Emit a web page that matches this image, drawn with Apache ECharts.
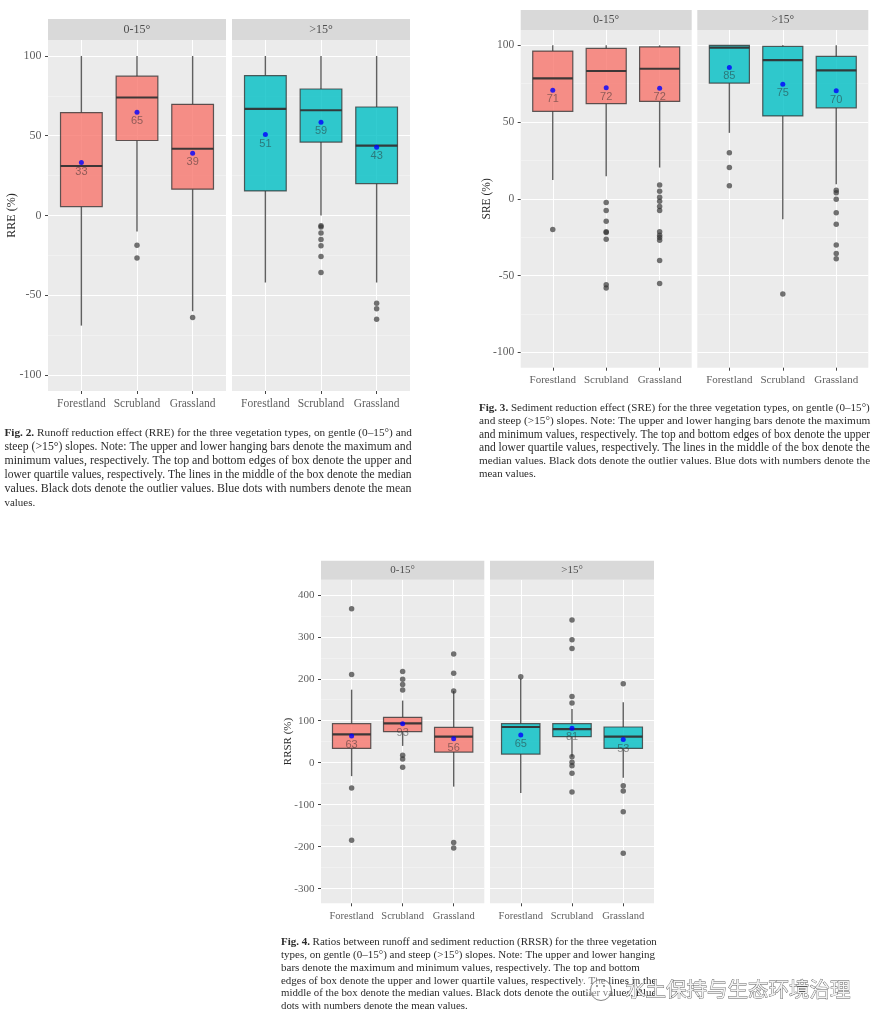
<!DOCTYPE html>
<html>
<head>
<meta charset="utf-8">
<style>html,body{margin:0;padding:0;background:#fff}#c{width:879px;height:1028px}</style>
<script src="https://cdn.jsdelivr.net/npm/echarts@6/dist/echarts.min.js"></script>
</head>
<body>
<div id="c"></div>
<script>
// ---- tick labels / categories
var categories = ['Forestland', 'Scrubland', 'Grassland'];
var facets = ['0-15°', '>15°'];
var ticksRatePct = [-100, -50, 0, 50, 100];
var minorRatePct = [-75, -25, 25, 75];
var ticksRRSR = [-300, -200, -100, 0, 100, 200, 300, 400];
var minorRRSR = [-250, -150, -50, 50, 150, 250, 350];

// ---- box values: [whisker low, q1, median, q3, whisker high]
var rreGentleBox = [[-69, 5.6, 31, 64.5, 100], [-10, 47, 74, 87.3, 100], [-60, 16.5, 41.8, 69.7, 100]];
var rreSteepBox = [[-42, 15.4, 66.8, 87.7, 100], [0, 46, 66, 79.3, 100], [-42, 20, 43.8, 68, 100]];
var sreGentleBox = [[12.2, 57, 78.5, 96.3, 100], [14.8, 62, 83.3, 98, 100], [20.4, 63.5, 84.8, 99, 100]];
var sreSteepBox = [[43, 75.4, 98.5, 100, 100], [-13.3, 54, 90.4, 99.3, 100], [9.5, 59.3, 83.7, 92.8, 100]];
var rrsrGentleBox = [[-32, 34, 67.5, 93, 174], [40, 74, 93.7, 108, 148], [-57, 25.4, 62, 84, 171]];
var rrsrSteepBox = [[-72, 20.6, 85, 93, 200], [14, 62, 80, 93, 128], [-36, 34, 62, 85, 144]];

// ---- mean dot positions and their printed numbers
var rreGentleMean = [33.2, 64.7, 39];
var rreSteepMean = [50.7, 58.5, 42.8];
var sreGentleMean = [70.7, 72.4, 72];
var sreSteepMean = [85.6, 74.6, 70.4];
var rrsrGentleMean = [63.5, 93, 57];
var rrsrSteepMean = [65.9, 82, 55];
var rreGentleMeanLabel = ['33', '65', '39'];
var rreSteepMeanLabel = ['51', '59', '43'];
var sreGentleMeanLabel = ['71', '72', '72'];
var sreSteepMeanLabel = ['85', '75', '70'];
var rrsrGentleMeanLabel = ['63', '93', '56'];
var rrsrSteepMeanLabel = ['65', '81', '53'];

// ---- outliers per category
var rreGentleOut = [[], [-18.6, -26.6], [-64]];
var rreSteepOut = [[], [-6.5, -7.2, -11, -15, -19, -25.7, -35.7], [-55, -58.5, -65]];
var sreGentleOut = [[-20], [-2.4, -7.6, -14.6, -21.5, -22, -26.3, -56, -58],
  [9, 5, 1, -1.5, -5, -7.6, -21.5, -23.7, -25.2, -27, -40.2, -55.2]];
var sreSteepOut = [[30, 20.4, 8.5], [-62], [5.6, 3.9, -0.2, -9, -16.5, -30, -35.6, -39]];
var rrsrGentleOut = [[367, 210, -60, -184.5], [217, 199, 186.5, 173, 17.5, 9, -11], [259, 213, 171, -190, -203]];
var rrsrSteepOut = [[205], [340, 293, 272, 158, 142, 14, 1, -7, -25, -70], [188, -55, -67.5, -117, -216]];

// ---- captions
var caption2 = ['{b|Fig. 2.} Runoff reduction effect (RRE) for the three vegetation types, on gentle (0–15°) and',
  'steep (>15°) slopes. Note: The upper and lower hanging bars denote the maximum and',
  'minimum values, respectively. The top and bottom edges of box denote the upper and',
  'lower quartile values, respectively. The lines in the middle of the box denote the median',
  'values. Black dots denote the outlier values. Blue dots with numbers denote the mean',
  'values.'];
var caption3 = ['{b|Fig. 3.} Sediment reduction effect (SRE) for the three vegetation types, on gentle (0–15°)',
  'and steep (>15°) slopes. Note: The upper and lower hanging bars denote the maximum',
  'and minimum values, respectively. The top and bottom edges of box denote the upper',
  'and lower quartile values, respectively. The lines in the middle of the box denote the',
  'median values. Black dots denote the outlier values. Blue dots with numbers denote the',
  'mean values.'];
var caption4 = ['{b|Fig. 4.} Ratios between runoff and sediment reduction (RRSR) for the three vegetation',
  'types, on gentle (0–15°) and steep (>15°) slopes. Note: The upper and lower hanging',
  'bars denote the maximum and minimum values, respectively. The top and bottom',
  'edges of box denote the upper and lower quartile values, respectively. The lines in the',
  'middle of the box denote the median values. Black dots denote the outlier values. Blue',
  'dots with numbers denote the mean values.'];
var watermark = '水土保持与生态环境治理';

// ---- layout (not data)
var SERIF = '"Liberation Serif", serif';
var figures = [
  { name: 'RRE (%)', ticks: ticksRatePct, minor: minorRatePct, min: -110, max: 110, top: 40, bottom: 391, strip: 19,
    nameX: 12, labelSize: 11.5, panels: [[48, 178], [232, 178]],
    box: [rreGentleBox, rreSteepBox], mean: [rreGentleMean, rreSteepMean], meanLabel: [rreGentleMeanLabel, rreSteepMeanLabel], out: [rreGentleOut, rreSteepOut] },
  { name: 'SRE (%)', ticks: ticksRatePct, minor: minorRatePct, min: -110, max: 110, top: 30, bottom: 367.7, strip: 10,
    nameX: 486.7, labelSize: 11, panels: [[520.7, 171], [697.3, 171]],
    box: [sreGentleBox, sreSteepBox], mean: [sreGentleMean, sreSteepMean], meanLabel: [sreGentleMeanLabel, sreSteepMeanLabel], out: [sreGentleOut, sreSteepOut] },
  { name: 'RRSR (%)', ticks: ticksRRSR, minor: minorRRSR, min: -335, max: 436, top: 579.7, bottom: 903.3, strip: 560.7,
    nameX: 288, labelSize: 10.5, panels: [[321, 163.3], [490, 164]],
    box: [rrsrGentleBox, rrsrSteepBox], mean: [rrsrGentleMean, rrsrSteepMean], meanLabel: [rrsrGentleMeanLabel, rrsrSteepMeanLabel], out: [rrsrGentleOut, rrsrSteepOut] }
];
var captions = [
  { lines: caption2, x: 4.5, y: 433, step: 14, maxSize: 12, widths: [407.5, 407.5, 407.5, 407.5, 407.5, 30.7] },
  { lines: caption3, x: 479, y: 408, step: 13.3, maxSize: 11.6, widths: [391.5, 391.5, 391.5, 391.5, 391.5, 57] },
  { lines: caption4, x: 281, y: 942, step: 12.9, maxSize: 11, widths: [376, 376, 376, 376, 376, 187] }
];
var PINK = 'rgba(248,118,109,0.8)', TEAL = 'rgba(0,191,196,0.8)';

var grids = [], xAxes = [], yAxes = [], series = [], graphics = [];

function boxItem(params, api) {
  var x = api.value(0);
  var pLow = api.coord([x, api.value(1)]), pQ1 = api.coord([x, api.value(2)]),
      pMed = api.coord([x, api.value(3)]), pQ3 = api.coord([x, api.value(4)]),
      pHigh = api.coord([x, api.value(5)]);
  var left = api.coord([x - 0.375, 0])[0], right = api.coord([x + 0.375, 0])[0];
  var fill = api.visual('color');
  var strokeC = 'rgba(51,51,51,0.78)';
  return { type: 'group', children: [
    { type: 'line', shape: { x1: pLow[0], y1: pLow[1], x2: pQ1[0], y2: pQ1[1] }, style: { stroke: strokeC, lineWidth: 1.4 } },
    { type: 'line', shape: { x1: pQ3[0], y1: pQ3[1], x2: pHigh[0], y2: pHigh[1] }, style: { stroke: strokeC, lineWidth: 1.4 } },
    { type: 'rect', shape: { x: left, y: pQ3[1], width: right - left, height: pQ1[1] - pQ3[1] }, style: { fill: fill, stroke: strokeC, lineWidth: 1.2 } },
    { type: 'line', shape: { x1: left, y1: pMed[1], x2: right, y2: pMed[1] }, style: { stroke: 'rgba(51,51,51,0.95)', lineWidth: 2.1 } }
  ] };
}

figures.forEach(function (f) {
  f.panels.forEach(function (p, pi) {
    var g = grids.length;
    grids.push({ left: p[0], top: f.top, width: p[1], height: f.bottom - f.top, show: true,
      backgroundColor: '#EBEBEB', borderWidth: 0, containLabel: false });
    xAxes.push({ gridIndex: g, type: 'value', min: 0.4, max: 3.6,
      axisLine: { show: false, onZero: false },
      axisTick: { show: true, length: 3, customValues: [1, 2, 3], lineStyle: { color: '#444', width: 1 } },
      axisLabel: { show: true, customValues: [1, 2, 3], margin: 7, hideOverlap: false, showMinLabel: true, showMaxLabel: true,
        color: '#5f5f5f', fontFamily: SERIF, fontSize: f.labelSize,
        formatter: function (v) { return categories[Math.round(v) - 1]; } },
      splitLine: { show: true, lineStyle: { color: '#fff', width: 1 } } });
    // main y axis: major ticks, labels, thick grid lines
    var yMain = yAxes.length;
    yAxes.push({ gridIndex: g, type: 'value', min: f.min, max: f.max,
      name: pi === 0 ? f.name : '', nameLocation: 'middle', nameGap: p[0] - f.nameX - 6, nameMoveOverlap: false,
      nameTextStyle: { color: '#2a2a2a', fontFamily: SERIF, fontSize: f.labelSize + 0.5 },
      axisLine: { show: false, onZero: false },
      axisTick: { show: pi === 0, length: 3, customValues: f.ticks, lineStyle: { color: '#444', width: 1 } },
      axisLabel: { show: pi === 0, customValues: f.ticks, margin: 6.5, showMinLabel: true, showMaxLabel: true,
        color: '#5f5f5f', fontFamily: SERIF, fontSize: f.labelSize + 0.5 },
      splitLine: { show: true, lineStyle: { color: '#fff', width: 1.1 } } });
    // companion y axis: the thin minor grid lines
    yAxes.push({ gridIndex: g, type: 'value', min: f.min, max: f.max, position: 'right',
      axisLine: { show: false, onZero: false },
      axisTick: { show: false, customValues: f.minor },
      axisLabel: { show: false },
      splitLine: { show: true, lineStyle: { color: '#F5F5F5', width: 0.6 } } });

    var fill = pi === 0 ? PINK : TEAL;
    series.push({ type: 'custom', xAxisIndex: g, yAxisIndex: yMain, renderItem: boxItem, silent: true,
      itemStyle: { color: fill }, encode: { x: 0, y: [1, 2, 3, 4, 5] }, z: 2,
      data: f.box[pi].map(function (b, i) { return [i + 1].concat(b); }) });
    var outs = [];
    f.out[pi].forEach(function (arr, i) { arr.forEach(function (v) { outs.push([i + 1, v]); }); });
    series.push({ type: 'scatter', xAxisIndex: g, yAxisIndex: yMain, symbolSize: 5.5, silent: true, z: 3,
      itemStyle: { color: 'rgba(51,51,51,0.85)' }, data: outs });
    series.push({ type: 'scatter', xAxisIndex: g, yAxisIndex: yMain, symbolSize: 5, silent: true, z: 4,
      itemStyle: { color: '#0000FF' },
      label: { show: true, position: 'bottom', distance: 1, color: 'rgba(40,40,40,0.62)',
        fontFamily: '"Liberation Sans", Arial, sans-serif', fontSize: 11,
        formatter: function (d) { return d.data[2]; } },
      data: f.mean[pi].map(function (v, i) { return [i + 1, v, f.meanLabel[pi][i]]; }) });

    // facet strip
    graphics.push({ type: 'rect', z: 1, silent: true, shape: { x: p[0], y: f.strip, width: p[1], height: f.top - f.strip }, style: { fill: '#D9D9D9' } });
    graphics.push({ type: 'text', z: 2, silent: true, x: p[0] + p[1] / 2, y: (f.strip + f.top) / 2,
      style: { text: facets[pi], fill: '#4d4d4d', font: f.labelSize + 0.5 + 'px ' + SERIF, textAlign: 'center', textVerticalAlign: 'middle' } });
  });
});

// each caption line takes the font size that makes it as wide as in the justified original
var ctx = document.createElement('canvas').getContext('2d');
function lineWidth100(line) {
  var m = line.match(/^\{b\|(.*?)\}(.*)$/), w = 0;
  if (m) {
    ctx.font = 'bold 100px "Liberation Serif"'; w += ctx.measureText(m[1]).width;
    ctx.font = '100px "Liberation Serif"'; w += ctx.measureText(m[2]).width;
  } else {
    ctx.font = '100px "Liberation Serif"'; w = ctx.measureText(line).width;
  }
  return w;
}
captions.forEach(function (c) {
  c.lines.forEach(function (line, i) {
    var size = Math.min(c.maxSize, 100 * c.widths[i] / lineWidth100(line));
    graphics.push({ type: 'text', z: 2, silent: true, x: c.x, y: c.y + i * c.step,
      style: { text: line, fill: '#2b2b2b', fontFamily: SERIF, fontSize: size, textVerticalAlign: 'middle',
        rich: { b: { fontWeight: 'bold', fontFamily: SERIF, fontSize: size, fill: '#2b2b2b' } } } });
  });
});

// watermark over the last caption
graphics.push({ type: 'circle', z: 4, silent: true, shape: { cx: 590, cy: 983, r: 9 }, style: { fill: 'rgba(255,255,255,0.35)', stroke: '#fff', lineWidth: 1 } });
graphics.push({ type: 'circle', z: 4, silent: true, shape: { cx: 601, cy: 990, r: 10.5 }, style: { fill: 'rgba(255,255,255,0.4)', stroke: '#777', lineWidth: 0.9 } });
graphics.push({ type: 'circle', z: 4, silent: true, shape: { cx: 597, cy: 986, r: 1 }, style: { fill: '#777' } });
graphics.push({ type: 'circle', z: 4, silent: true, shape: { cx: 604, cy: 986, r: 1 }, style: { fill: '#777' } });
graphics.push({ type: 'text', z: 5, silent: true, x: 625, y: 989,
  style: { text: watermark, fontFamily: '"Noto Sans CJK SC"', fontSize: 20.5, fill: '#f2f2f2', stroke: '#5a5a5a', lineWidth: 0.8, textVerticalAlign: 'middle' } });

var chart = echarts.init(document.getElementById('c'), null, { renderer: 'canvas' });
chart.setOption({
  animation: false, backgroundColor: '#fff',
  grid: grids, xAxis: xAxes, yAxis: yAxes, series: series, graphic: graphics
});
</script>
</body>
</html>
